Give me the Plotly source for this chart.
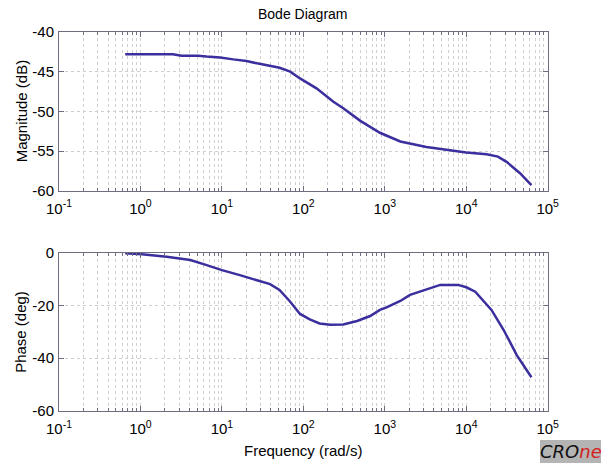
import plotly.graph_objects as go

# Data
mag_freq = [0.65, 2.5, 3.2, 5.1, 6.5, 9.5, 13.8, 20, 27, 35.5, 51, 69, 91, 145, 234, 309,
            501, 871, 1550, 3240, 7590, 10000, 17800, 24500, 31600, 45700, 63100]
mag_db = [-42.8, -42.8, -43.0, -43.0, -43.1, -43.2, -43.45, -43.65, -43.95, -44.2, -44.5,
          -45.0, -45.85, -47.1, -48.8, -49.6, -51.2, -52.7, -53.8, -54.5, -55.1, -55.2,
          -55.4, -55.7, -56.4, -57.8, -59.3]
ph_freq = [0.65, 1.04, 2.1, 4.1, 6.5, 10, 16.6, 27, 39, 51, 69, 91, 120, 158, 214, 309, 457,
           661, 871, 1050, 1550, 2040, 3240, 4790, 7940, 10000, 12900, 20400, 28800, 41700, 63100]
ph_deg = [-0.25, -0.6, -1.5, -2.8, -4.7, -6.6, -8.5, -10.3, -11.9, -14.1, -18.6, -23.2, -25.3,
          -26.8, -27.3, -27.2, -25.9, -24.0, -21.7, -20.7, -18.3, -16.0, -13.9, -12.2, -12.2,
          -13.1, -14.8, -21.7, -29.3, -38.8, -47.2]
x_tickvals = [0.1, 1, 10, 100, 1000, 10000, 100000]
x_ticktext = ["10<sup>-1</sup>", "10<sup>0</sup>", "10<sup>1</sup>", "10<sup>2</sup>",
              "10<sup>3</sup>", "10<sup>4</sup>", "10<sup>5</sup>"]
mag_ticks = [-60, -55, -50, -45, -40]
mag_ticktext = ["-60", "-55", "-50", "-45", "-40"]
ph_ticks = [-60, -40, -20, 0]
ph_ticktext = ["-60", "-40", "-20", "0"]

W, H = 601, 463
line_color = "#3b2f9e"
axis_color = "#6e6e80"
grid_color = "#cfcfcf"
font = "Liberation Sans, Arial, sans-serif"

fig = go.Figure()
fig.add_trace(go.Scatter(x=mag_freq, y=mag_db, mode="lines", xaxis="x", yaxis="y",
                         line=dict(color=line_color, width=2.5), showlegend=False))
fig.add_trace(go.Scatter(x=ph_freq, y=ph_deg, mode="lines", xaxis="x2", yaxis="y2",
                         line=dict(color=line_color, width=2.5), showlegend=False))

xd = [59 / W, 547.7 / W]
common_x = dict(type="log", range=[-1, 5], tickvals=x_tickvals, ticktext=x_ticktext,
                showline=True, mirror="ticks", linecolor=axis_color, linewidth=1,
                ticks="inside", ticklen=5, tickcolor=axis_color, automargin=False,
                showgrid=True, gridcolor=grid_color, griddash="dot", gridwidth=1,
                minor=dict(dtick="D1", ticks="inside", ticklen=3, tickcolor=axis_color,
                           showgrid=True, gridcolor=grid_color, griddash="dot", gridwidth=1),
                tickfont=dict(size=15, color="#000"), zeroline=False, domain=xd,
                ticklabelstandoff=4)
common_y = dict(showline=True, mirror="ticks", linecolor=axis_color, linewidth=1,
                ticks="inside", ticklen=5, tickcolor=axis_color, automargin=False,
                showgrid=True, gridcolor=grid_color, griddash="dot", gridwidth=1,
                tickfont=dict(size=15, color="#000"), zeroline=False,
                ticklabelstandoff=1)

mag_dom = [1 - 190.7 / H, 1 - 32 / H]
ph_dom = [1 - 411 / H, 1 - 252.7 / H]

fig.update_layout(
    width=W, height=H, margin=dict(l=0, r=0, t=0, b=0),
    paper_bgcolor="white", plot_bgcolor="white",
    font=dict(family=font, color="#000"),
    xaxis=dict(common_x, anchor="y"),
    yaxis=dict(common_y, range=[-60, -40], tickvals=mag_ticks, ticktext=mag_ticktext,
               domain=mag_dom, anchor="x"),
    xaxis2=dict(common_x, anchor="y2"),
    yaxis2=dict(common_y, range=[-60, 0], tickvals=ph_ticks, ticktext=ph_ticktext,
                domain=ph_dom, anchor="x2"),
    shapes=[
        dict(type="rect", xref="paper", yref="paper", x0=540 / W, x1=1, y0=0, y1=23 / H,
             fillcolor="#b4b4b4", line=dict(width=0), layer="below"),
    ],
    annotations=[
        dict(text="Bode Diagram", x=(xd[0] + xd[1]) / 2, y=1 - 14 / H, xref="paper", yref="paper",
             showarrow=False, font=dict(size=14, color="#000"), xanchor="center", yanchor="middle"),
        dict(text="Magnitude (dB)", x=21 / W, y=sum(mag_dom) / 2, xref="paper", yref="paper",
             showarrow=False, textangle=-90, font=dict(size=15, color="#000"),
             xanchor="center", yanchor="middle"),
        dict(text="Phase (deg)", x=21 / W, y=sum(ph_dom) / 2, xref="paper", yref="paper",
             showarrow=False, textangle=-90, font=dict(size=15, color="#000"),
             xanchor="center", yanchor="middle"),
        dict(text="Frequency (rad/s)", x=(xd[0] + xd[1]) / 2, y=1 - 450 / H, xref="paper",
             yref="paper", showarrow=False, font=dict(size=15, color="#000"),
             xanchor="center", yanchor="middle"),
        dict(text="<i>CRO</i><i><span style='color:#d42020'>ne</span></i>",
             x=(540 / W + 1) / 2, y=11.5 / H, xref="paper", yref="paper", showarrow=False,
             xanchor="center", yanchor="middle",
             font=dict(size=18, color="#111", family="DejaVu Sans, sans-serif")),
    ],
)

fig.write_html("out.html", config={"displayModeBar": False},
               post_script="document.body.style.margin='0';document.body.style.overflow='hidden';")
